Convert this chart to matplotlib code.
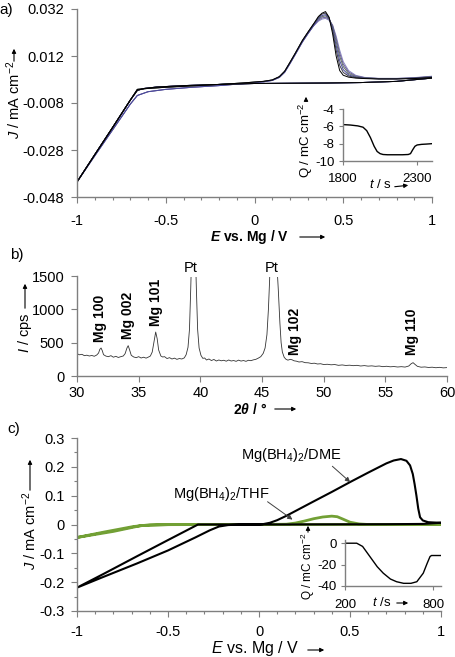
import matplotlib
matplotlib.use('Agg')
import matplotlib.pyplot as plt
from matplotlib.ticker import MultipleLocator

plt.rcParams['font.family'] = ['Liberation Sans', 'DejaVu Sans']
plt.rcParams['mathtext.fontset'] = 'custom'
plt.rcParams['mathtext.rm'] = 'Liberation Sans'
plt.rcParams['mathtext.it'] = 'Liberation Sans:italic'
plt.rcParams['mathtext.bf'] = 'Liberation Sans:bold'
plt.rcParams['mathtext.bfit'] = 'Liberation Sans:bold:italic'
plt.rcParams['axes.unicode_minus'] = False

# ---------------- panel a: CV cycles ----------------
E_an_lo = [-1.0, -0.9, -0.8, -0.7, -0.66, -0.6, -0.5, -0.35, -0.2, -0.07, 0.05, 0.1,
           0.14, 0.17, 0.2, 0.23, 0.27, 0.3, 0.33]
J_an_lo_a = [-0.0416, -0.0300, -0.0185, -0.0068, -0.0022, -0.0018, -0.0013, -0.0007, -0.0001,
             0.0005, 0.0012, 0.0018, 0.0032, 0.0055, 0.0093, 0.0132, 0.0186, 0.0220, 0.0253]
J_an_lo_b = [-0.0416, -0.0305, -0.0195, -0.0085, -0.0048, -0.0032, -0.0022, -0.0013, -0.0006,
             0.0002, 0.0010, 0.0016, 0.0029, 0.0051, 0.0088, 0.0127, 0.0180, 0.0214, 0.0246]
E_pk = [0.36, 0.38, 0.4, 0.42, 0.44, 0.46, 0.48, 0.5, 0.53, 0.57, 0.62, 0.7, 0.8, 0.9, 1.0]
J_pk = [
    [0.0268, 0.0277, 0.0280, 0.0272, 0.0252, 0.0205, 0.0145, 0.0096, 0.0058, 0.0038, 0.0029, 0.0025, 0.0025, 0.0028, 0.0034],
    [0.0272, 0.0282, 0.0285, 0.0276, 0.0250, 0.0195, 0.0132, 0.0086, 0.0052, 0.0035, 0.0028, 0.0024, 0.0024, 0.0027, 0.0033],
    [0.0277, 0.0287, 0.0291, 0.0279, 0.0245, 0.0182, 0.0118, 0.0075, 0.0046, 0.0032, 0.0027, 0.0024, 0.0024, 0.0026, 0.0032],
    [0.0280, 0.0292, 0.0296, 0.0281, 0.0238, 0.0165, 0.0100, 0.0062, 0.0040, 0.0030, 0.0026, 0.0023, 0.0023, 0.0026, 0.0031],
    [0.0285, 0.0298, 0.0303, 0.0284, 0.0228, 0.0145, 0.0080, 0.0050, 0.0035, 0.0028, 0.0025, 0.0023, 0.0023, 0.0025, 0.0029],
    [0.0288, 0.0302, 0.0309, 0.0285, 0.0215, 0.0120, 0.0058, 0.0038, 0.0030, 0.0026, 0.0024, 0.0022, 0.0022, 0.0024, 0.0028],
]
cycle_lo = ['b', 'b', 'a', 'b', 'a', 'a']
cycle_colors = ['#8a8ac0', '#6a5a9a', '#5f7060', '#4a4a9a', '#3a3a4a', '#000000']
E_ret = [1.0, 0.8, 0.6, 0.4, 0.2, 0.0, -0.2, -0.4, -0.55, -0.62, -0.66, -0.7, -0.8, -0.9, -1.0]
J_ret = [0.0026, 0.0012, 0.0007, 0.0005, 0.0004, 0.0003, -0.0001, -0.0006, -0.0012, -0.0018,
         -0.0026, -0.0068, -0.0185, -0.0300, -0.0416]

a_yticks = [0.032, 0.012, -0.008, -0.028, -0.048]
a_yticklabels = ['0.032', '0.012', '-0.008', '-0.028', '-0.048']
E_ticks = [-1, -0.5, 0, 0.5, 1]
E_ticklabels = ['-1', '-0.5', '0', '0.5', '1']

# inset a: charge vs time
t_a = [1800, 1850, 1900, 1935, 1960, 1985, 2010, 2030, 2050, 2070, 2100, 2150, 2200, 2240,
       2255, 2270, 2285, 2300, 2330, 2360, 2400]
Q_a = [-5.8, -5.85, -5.95, -6.1, -6.5, -7.3, -8.3, -8.9, -9.15, -9.25, -9.28, -9.28, -9.28,
       -9.25, -9.15, -8.7, -8.3, -8.15, -8.08, -8.05, -8.0]

# ---------------- panel b: XRD ----------------
two_theta = [30.0, 30.2, 30.4, 30.6, 30.8, 31.0, 31.2, 31.4, 31.6, 31.75, 31.85, 31.95, 32.05, 32.15,
             32.35, 32.55, 32.75, 32.95, 33.15, 33.35, 33.55, 33.75, 33.9, 34.05, 34.15, 34.25, 34.4,
             34.6, 34.8, 35.0, 35.2, 35.4, 35.6, 35.8, 35.95, 36.1, 36.25, 36.38, 36.5, 36.62, 36.8,
             36.95, 37.1, 37.3, 37.5, 37.7, 37.9, 38.1, 38.3, 38.5, 38.7, 38.85, 39.0, 39.12, 39.22,
             39.35, 39.45, 39.55, 39.68, 39.78, 39.9, 40.05, 40.2, 40.35, 40.5, 40.7, 40.9, 41.1, 41.3,
             41.5, 41.7, 41.9, 42.1, 42.3, 42.5, 42.7, 42.9, 43.1, 43.3, 43.5, 43.7, 43.9, 44.1, 44.3,
             44.5, 44.7, 44.9, 45.1, 45.25, 45.4, 45.52, 45.62, 45.75, 45.9, 46.05, 46.2, 46.32, 46.45,
             46.55, 46.65, 46.8, 46.95, 47.1, 47.3, 47.45, 47.6, 47.8, 48.0, 48.25, 48.5, 48.75, 49.0,
             49.25, 49.5, 49.75, 50.0, 50.3, 50.6, 50.9, 51.2, 51.5, 51.8, 52.1, 52.4, 52.7, 53.0, 53.3,
             53.6, 53.9, 54.2, 54.5, 54.8, 55.1, 55.4, 55.7, 56.0, 56.3, 56.6, 56.9, 57.1, 57.25, 57.4,
             57.6, 57.9, 58.2, 58.5, 58.8, 59.1, 59.4, 59.7, 60.0]
cps = [335, 318, 325, 305, 312, 300, 308, 296, 315, 345, 400, 420, 380, 320,
       298, 290, 305, 282, 295, 278, 290, 300, 335, 420, 455, 400, 310,
       285, 275, 290, 270, 282, 268, 285, 300, 360, 520, 660, 560, 390, 300,
       285, 290, 262, 275, 255, 268, 250, 262, 255, 272, 320, 430, 700, 1300,
       2200, 2600, 2200, 1300, 700, 420, 310, 265, 270, 240, 255, 232, 248, 225,
       240, 228, 236, 222, 240, 225, 232, 220, 238, 224, 232, 220, 236, 230, 242,
       250, 268, 290, 340, 420, 620, 1000, 1450, 2400, 3000, 2400, 1700, 1300, 800,
       500, 360, 280, 250, 238, 250, 242, 228, 222, 210, 215, 200, 198, 188,
       192, 180, 184, 172, 176, 168, 172, 160, 166, 158, 162, 155, 160, 150, 156,
       148, 152, 145, 150, 140, 146, 138, 142, 135, 140, 134, 150, 185, 200, 175,
       145, 132, 136, 128, 132, 124, 130, 122, 126]
mg_labels = ['Mg 100', 'Mg 002', 'Mg 101', 'Mg 102', 'Mg 110']
mg_pos = [31.9, 34.15, 36.38, 47.7, 57.15]
mg_base = [515, 550, 755, 315, 315]
pt_pos = [39.2, 45.8]

# ---------------- panel c ----------------
E_dme = [1.0, 0.9, 0.7, 0.4, 0.0, -0.2, -0.335, -0.5, -0.67, -0.85, -1.0,
         -0.86, -0.67, -0.5, -0.35, -0.27, -0.22, -0.17, -0.1, 0.0, 0.02, 0.06, 0.1, 0.15, 0.21,
         0.3, 0.4, 0.5, 0.6, 0.7, 0.74, 0.78, 0.81, 0.83, 0.845, 0.855, 0.865, 0.875, 0.885, 0.9,
         0.93, 0.96, 1.0]
J_dme = [0.006, 0.002, 0.001, 0.0005, 0.0, 0.0, 0.0, -0.054, -0.110, -0.170, -0.219,
         -0.183, -0.135, -0.090, -0.045, -0.020, -0.007, -0.002, 0.0, 0.0, 0.001, 0.006, 0.015, 0.030, 0.050,
         0.080, 0.113, 0.147, 0.180, 0.212, 0.222, 0.227, 0.221, 0.205, 0.175, 0.140, 0.100, 0.055, 0.025, 0.014,
         0.008, 0.007, 0.006]
E_thf = [-1.0, -0.85, -0.69, -0.6, -0.4, 0.0, 0.15, 0.2, 0.25, 0.3, 0.35, 0.4, 0.43, 0.46, 0.5,
         0.55, 0.6, 1.0, 0.5, 0.0, -0.5, -0.65, -0.8, -1.0]
J_thf = [-0.045, -0.026, -0.007, -0.001, 0.0, 0.0, 0.001, 0.005, 0.012, 0.020, 0.026, 0.029, 0.027,
         0.019, 0.008, 0.002, 0.0, 0.0, 0.0, 0.0, -0.0005, -0.004, -0.024, -0.045]
c_yticks = [0.3, 0.2, 0.1, 0, -0.1, -0.2, -0.3]
c_yticklabels = ['0.3', '0.2', '0.1', '0', '-0.1', '-0.2', '-0.3']

t_c = [200, 280, 320, 370, 420, 461, 510, 552, 600, 650, 690, 734, 760, 780, 790, 855]
Q_c = [0, 0, -3, -12.5, -22, -28, -33.5, -36, -37.5, -37.5, -36, -28, -19, -12.5, -11.5, -11.5]

# ---------------- layout helpers (reference pixel coords) ----------------
W, H = 456, 657
GRAY = '#7f7f7f'


def box(x0, y0, x1, y1):
    return [x0 / W, 1 - y1 / H, (x1 - x0) / W, (y1 - y0) / H]


def fp(x, y):
    return (x / W, 1 - y / H)


def style(ax, size=10.5, xpad=8, ypad=5):
    for s in ['top', 'right']:
        ax.spines[s].set_visible(False)
    for s in ['left', 'bottom']:
        ax.spines[s].set_color(GRAY)
        ax.spines[s].set_linewidth(1.0)
    ax.tick_params(which='both', direction='out', color=GRAY, width=0.8, labelsize=size)
    ax.tick_params(which='major', length=4)
    ax.tick_params(which='minor', length=2.5)
    ax.tick_params(axis='x', pad=xpad)
    ax.tick_params(axis='y', pad=ypad)


def arrow(x0, y0, x1, y1):
    fig.add_artist(matplotlib.patches.FancyArrowPatch(
        fp(x0, y0), fp(x1, y1), transform=fig.transFigure, arrowstyle='-|>',
        mutation_scale=6, lw=0.8, color='black'))


fig = plt.figure(figsize=(W / 100, H / 100), dpi=100)

# ---- panel a ----
ax_a = fig.add_axes(box(77, 9, 432, 197))
for J_p, lo, col in zip(J_pk, cycle_lo, cycle_colors):
    J_lo = J_an_lo_a if lo == 'a' else J_an_lo_b
    ax_a.plot(E_an_lo + E_pk, J_lo + J_p, color=col, lw=0.7)
    ax_a.plot(E_ret, J_ret, color=col, lw=0.7)
ax_a.set_xlim(-1, 1)
ax_a.set_ylim(-0.048, 0.032)
ax_a.set_xticks(E_ticks)
ax_a.set_xticklabels(E_ticklabels)
ax_a.set_yticks(a_yticks)
ax_a.set_yticklabels(a_yticklabels)
ax_a.xaxis.set_minor_locator(MultipleLocator(0.1))
style(ax_a)

ins_a = fig.add_axes(box(343, 109, 432, 161))
ins_a.plot(t_a, Q_a, color='black', lw=1.0)
ins_a.set_xlim(1800, 2400)
ins_a.set_ylim(-10, -4)
ins_a.set_xticks([1800, 2300])
ins_a.set_yticks([-4, -6, -8, -10])
ins_a.set_yticklabels(['-4', '-6', '-8', '-10'])
ins_a.patch.set_alpha(0)
style(ins_a, size=9.5, xpad=6, ypad=3)
ins_a.tick_params(which='major', length=3)

fig.text(*fp(6, 10), 'a)', fontsize=11, ha='center', va='center')
fig.text(*fp(250, 237), '$\\mathbfit{E}$ vs. Mg / V', fontsize=10, weight='bold',
         ha='center', va='center')
arrow(297, 237, 328, 237)
fig.text(*fp(14, 100), '$\\mathit{J}$ / mA cm$^{-2}$', fontsize=10.5, rotation=90,
         ha='center', va='center')
arrow(14, 64, 14, 46)
fig.text(*fp(306, 140), 'Q / mC cm$^{-2}$', fontsize=9.5, rotation=90, ha='center', va='center')
arrow(306, 104, 306, 94)
fig.text(*fp(380, 184), '$\\mathit{t}$ / s', fontsize=9.5, ha='center', va='center')
arrow(392, 187, 411, 185)

# ---- panel b ----
ax_b = fig.add_axes(box(77, 276, 447, 376))
ax_b.plot(two_theta, cps, color='#333333', lw=0.6)
ax_b.set_xlim(30, 60)
ax_b.set_ylim(0, 1500)
ax_b.set_xticks(range(30, 61, 5))
ax_b.set_yticks([0, 500, 1000, 1500])
style(ax_b, xpad=3.5)
for lab, x, yb in zip(mg_labels, mg_pos, mg_base):
    ax_b.text(x, yb, lab, rotation=90, ha='center', va='bottom', fontsize=10, weight='bold')
for x in pt_pos:
    ax_b.text(x, 1620, 'Pt', ha='center', va='center', fontsize=10.5, clip_on=False,
              bbox=dict(facecolor='white', edgecolor='none', pad=1.5))

fig.text(*fp(17, 255), 'b)', fontsize=11, ha='center', va='center')
fig.text(*fp(250, 409), '2$\\mathbfit{\\theta}$ / °', fontsize=10, weight='bold',
         ha='center', va='center')
arrow(272, 409, 299, 409)
fig.text(*fp(25, 333), '$\\mathit{I}$ / cps', fontsize=10.5, rotation=90, ha='center', va='center')
arrow(25, 311, 25, 281)

# ---- panel c ----
ax_c = fig.add_axes(box(77, 438, 441, 611))
ax_c.plot(E_thf, J_thf, color='#72a035', lw=2.0)
ax_c.plot(E_dme, J_dme, color='black', lw=1.5)
ax_c.set_xlim(-1, 1)
ax_c.set_ylim(-0.3, 0.3)
ax_c.set_xticks(E_ticks)
ax_c.set_xticklabels(E_ticklabels)
ax_c.set_yticks(c_yticks)
ax_c.set_yticklabels(c_yticklabels)
ax_c.xaxis.set_minor_locator(MultipleLocator(0.1))
ax_c.yaxis.set_minor_locator(MultipleLocator(0.05))
style(ax_c, xpad=6)
arr = dict(arrowstyle='-|>', lw=0.7, color='#404040', mutation_scale=7, shrinkA=0, shrinkB=0)
ax_c.text(0.178, 0.240, 'Mg(BH$_4$)$_2$/DME', fontsize=10.5, ha='center', va='center')
ax_c.annotate('', xy=(0.501, 0.147), xytext=(0.403, 0.202), arrowprops=arr)
ax_c.text(-0.205, 0.106, 'Mg(BH$_4$)$_2$/THF', fontsize=10.5, ha='center', va='center')
ax_c.annotate('', xy=(0.184, 0.017), xytext=(0.047, 0.079), arrowprops=arr)

ins_c = fig.add_axes(box(345, 540, 441, 586))
ins_c.plot(t_c, Q_c, color='black', lw=1.0)
ins_c.set_xlim(200, 855)
ins_c.set_ylim(-40, 3)
ins_c.set_xticks([200, 800])
ins_c.set_yticks([0, -20, -40])
ins_c.set_yticklabels(['0', '-20', '-40'])
ins_c.patch.set_alpha(0)
style(ins_c, size=9.5, xpad=6, ypad=3)
ins_c.tick_params(which='major', length=3)

fig.text(*fp(14, 429), 'c)', fontsize=11, ha='center', va='center')
fig.text(*fp(255, 649), '$\\mathit{E}$ vs. Mg / V', fontsize=11.5, ha='center', va='center')
arrow(305, 650, 327, 650)
fig.text(*fp(30, 531), '$\\mathit{J}$ / mA cm$^{-2}$', fontsize=10.5, rotation=90,
         ha='center', va='center')
arrow(30, 493, 30, 457)
fig.text(*fp(308, 566), 'Q / mC cm$^{-2}$', fontsize=8.5, rotation=90, ha='center', va='center')
arrow(308, 535, 308, 523)
fig.text(*fp(382, 603), '$\\mathit{t}$ /s', fontsize=9.5, ha='center', va='center')
arrow(394, 603, 411, 603)

fig.savefig('out.png', dpi=100)
